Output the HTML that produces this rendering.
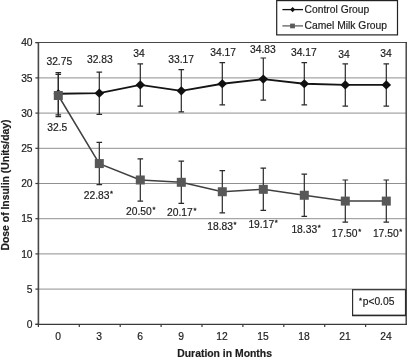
<!DOCTYPE html>
<html><head><meta charset="utf-8"><title>Dose of Insulin chart</title>
<style>
html,body{margin:0;padding:0;background:#fff;}
svg{display:block;will-change:transform;opacity:0.999;}
text{font-family:"Liberation Sans",Arial,Helvetica,sans-serif;fill:#1c1c1c;font-size:10.3px;stroke:#1c1c1c;stroke-width:0.18px;}
.b{font-weight:bold;font-size:10.4px;}
</style></head><body>
<svg width="407" height="360" viewBox="0 0 407 360">

<line x1="38" x2="406" y1="289.10" y2="289.10" stroke="#909090" stroke-width="1.0"/>
<line x1="38" x2="406" y1="253.90" y2="253.90" stroke="#909090" stroke-width="1.0"/>
<line x1="38" x2="406" y1="218.70" y2="218.70" stroke="#909090" stroke-width="1.0"/>
<line x1="38" x2="406" y1="183.50" y2="183.50" stroke="#909090" stroke-width="1.0"/>
<line x1="38" x2="406" y1="148.30" y2="148.30" stroke="#909090" stroke-width="1.0"/>
<line x1="38" x2="406" y1="113.10" y2="113.10" stroke="#909090" stroke-width="1.0"/>
<line x1="38" x2="406" y1="77.90" y2="77.90" stroke="#909090" stroke-width="1.0"/>
<line x1="35.4" x2="407" y1="42.5" y2="42.5" stroke="#484848" stroke-width="1.1"/>
<line x1="406.2" x2="406.2" y1="42.10" y2="325.10" stroke="#3a3a3a" stroke-width="1.4"/>
<line x1="38.4" x2="38.4" y1="42.10" y2="324.90" stroke="#484848" stroke-width="1.6"/>
<line x1="35.5" x2="407" y1="324.3" y2="324.3" stroke="#3a3a3a" stroke-width="1.25"/>
<line x1="35.4" x2="38.3" y1="324.30" y2="324.30" stroke="#3a3a3a" stroke-width="1.2"/>
<text x="32.6" y="327.90" text-anchor="end">0</text>
<line x1="35.4" x2="38.3" y1="289.10" y2="289.10" stroke="#3a3a3a" stroke-width="1.2"/>
<text x="32.6" y="292.70" text-anchor="end">5</text>
<line x1="35.4" x2="38.3" y1="253.90" y2="253.90" stroke="#3a3a3a" stroke-width="1.2"/>
<text x="32.6" y="257.50" text-anchor="end">10</text>
<line x1="35.4" x2="38.3" y1="218.70" y2="218.70" stroke="#3a3a3a" stroke-width="1.2"/>
<text x="32.6" y="222.30" text-anchor="end">15</text>
<line x1="35.4" x2="38.3" y1="183.50" y2="183.50" stroke="#3a3a3a" stroke-width="1.2"/>
<text x="32.6" y="187.10" text-anchor="end">20</text>
<line x1="35.4" x2="38.3" y1="148.30" y2="148.30" stroke="#3a3a3a" stroke-width="1.2"/>
<text x="32.6" y="151.90" text-anchor="end">25</text>
<line x1="35.4" x2="38.3" y1="113.10" y2="113.10" stroke="#3a3a3a" stroke-width="1.2"/>
<text x="32.6" y="116.70" text-anchor="end">30</text>
<line x1="35.4" x2="38.3" y1="77.90" y2="77.90" stroke="#3a3a3a" stroke-width="1.2"/>
<text x="32.6" y="81.50" text-anchor="end">35</text>
<line x1="35.4" x2="38.3" y1="42.70" y2="42.70" stroke="#3a3a3a" stroke-width="1.2"/>
<text x="32.6" y="46.30" text-anchor="end">40</text>
<line x1="38.40" x2="38.40" y1="324.3" y2="327.00" stroke="#3a3a3a" stroke-width="1.2"/>
<line x1="79.30" x2="79.30" y1="324.3" y2="327.00" stroke="#3a3a3a" stroke-width="1.2"/>
<line x1="120.20" x2="120.20" y1="324.3" y2="327.00" stroke="#3a3a3a" stroke-width="1.2"/>
<line x1="161.10" x2="161.10" y1="324.3" y2="327.00" stroke="#3a3a3a" stroke-width="1.2"/>
<line x1="202.00" x2="202.00" y1="324.3" y2="327.00" stroke="#3a3a3a" stroke-width="1.2"/>
<line x1="242.90" x2="242.90" y1="324.3" y2="327.00" stroke="#3a3a3a" stroke-width="1.2"/>
<line x1="283.80" x2="283.80" y1="324.3" y2="327.00" stroke="#3a3a3a" stroke-width="1.2"/>
<line x1="324.70" x2="324.70" y1="324.3" y2="327.00" stroke="#3a3a3a" stroke-width="1.2"/>
<line x1="365.60" x2="365.60" y1="324.3" y2="327.00" stroke="#3a3a3a" stroke-width="1.2"/>
<text x="58.00" y="339.9" text-anchor="middle">0</text>
<text x="99.00" y="339.9" text-anchor="middle">3</text>
<text x="140.00" y="339.9" text-anchor="middle">6</text>
<text x="181.00" y="339.9" text-anchor="middle">9</text>
<text x="222.00" y="339.9" text-anchor="middle">12</text>
<text x="263.00" y="339.9" text-anchor="middle">15</text>
<text x="304.00" y="339.9" text-anchor="middle">18</text>
<text x="345.00" y="339.9" text-anchor="middle">21</text>
<text x="386.00" y="339.9" text-anchor="middle">24</text>
<path d="M58.30 72.62V114.86M55.50 72.62h5.6M55.50 114.86h5.6" stroke="#2a2a2a" stroke-width="1.2" fill="none"/>
<path d="M58.30 74.38V116.62M55.50 74.38h5.6M55.50 116.62h5.6" stroke="#2a2a2a" stroke-width="1.2" fill="none"/>
<path d="M99.30 72.06V114.30M96.50 72.06h5.6M96.50 114.30h5.6" stroke="#2a2a2a" stroke-width="1.2" fill="none"/>
<path d="M99.30 142.46V184.70M96.50 142.46h5.6M96.50 184.70h5.6" stroke="#2a2a2a" stroke-width="1.2" fill="none"/>
<path d="M140.30 63.82V106.06M137.50 63.82h5.6M137.50 106.06h5.6" stroke="#2a2a2a" stroke-width="1.2" fill="none"/>
<path d="M140.30 158.86V201.10M137.50 158.86h5.6M137.50 201.10h5.6" stroke="#2a2a2a" stroke-width="1.2" fill="none"/>
<path d="M181.30 69.66V111.90M178.50 69.66h5.6M178.50 111.90h5.6" stroke="#2a2a2a" stroke-width="1.2" fill="none"/>
<path d="M181.30 161.18V203.42M178.50 161.18h5.6M178.50 203.42h5.6" stroke="#2a2a2a" stroke-width="1.2" fill="none"/>
<path d="M222.30 62.62V104.86M219.50 62.62h5.6M219.50 104.86h5.6" stroke="#2a2a2a" stroke-width="1.2" fill="none"/>
<path d="M222.30 170.62V212.86M219.50 170.62h5.6M219.50 212.86h5.6" stroke="#2a2a2a" stroke-width="1.2" fill="none"/>
<path d="M263.30 57.98V100.22M260.50 57.98h5.6M260.50 100.22h5.6" stroke="#2a2a2a" stroke-width="1.2" fill="none"/>
<path d="M263.30 168.22V210.46M260.50 168.22h5.6M260.50 210.46h5.6" stroke="#2a2a2a" stroke-width="1.2" fill="none"/>
<path d="M304.30 62.62V104.86M301.50 62.62h5.6M301.50 104.86h5.6" stroke="#2a2a2a" stroke-width="1.2" fill="none"/>
<path d="M304.30 174.14V216.38M301.50 174.14h5.6M301.50 216.38h5.6" stroke="#2a2a2a" stroke-width="1.2" fill="none"/>
<path d="M345.30 63.82V106.06M342.50 63.82h5.6M342.50 106.06h5.6" stroke="#2a2a2a" stroke-width="1.2" fill="none"/>
<path d="M345.30 179.98V222.22M342.50 179.98h5.6M342.50 222.22h5.6" stroke="#2a2a2a" stroke-width="1.2" fill="none"/>
<path d="M386.30 63.82V106.06M383.50 63.82h5.6M383.50 106.06h5.6" stroke="#2a2a2a" stroke-width="1.2" fill="none"/>
<path d="M386.30 179.98V222.22M383.50 179.98h5.6M383.50 222.22h5.6" stroke="#2a2a2a" stroke-width="1.2" fill="none"/>
<polyline points="58.30,93.74 99.30,93.18 140.30,84.94 181.30,90.78 222.30,83.74 263.30,79.10 304.30,83.74 345.30,84.94 386.30,84.94" fill="none" stroke="#141414" stroke-width="1.8"/>
<path d="M58.30 89.14L63.10 93.74L58.30 98.34L53.50 93.74Z" fill="#111"/>
<path d="M99.30 88.58L104.10 93.18L99.30 97.78L94.50 93.18Z" fill="#111"/>
<path d="M140.30 80.34L145.10 84.94L140.30 89.54L135.50 84.94Z" fill="#111"/>
<path d="M181.30 86.18L186.10 90.78L181.30 95.38L176.50 90.78Z" fill="#111"/>
<path d="M222.30 79.14L227.10 83.74L222.30 88.34L217.50 83.74Z" fill="#111"/>
<path d="M263.30 74.50L268.10 79.10L263.30 83.70L258.50 79.10Z" fill="#111"/>
<path d="M304.30 79.14L309.10 83.74L304.30 88.34L299.50 83.74Z" fill="#111"/>
<path d="M345.30 80.34L350.10 84.94L345.30 89.54L340.50 84.94Z" fill="#111"/>
<path d="M386.30 80.34L391.10 84.94L386.30 89.54L381.50 84.94Z" fill="#111"/>
<polyline points="58.30,95.50 99.30,163.58 140.30,179.98 181.30,182.30 222.30,191.74 263.30,189.34 304.30,195.26 345.30,201.10 386.30,201.10" fill="none" stroke="#404040" stroke-width="1.5"/>
<rect x="53.80" y="91.00" width="9" height="9" fill="#585858"/>
<rect x="94.80" y="159.08" width="9" height="9" fill="#585858"/>
<rect x="135.80" y="175.48" width="9" height="9" fill="#585858"/>
<rect x="176.80" y="177.80" width="9" height="9" fill="#585858"/>
<rect x="217.80" y="187.24" width="9" height="9" fill="#585858"/>
<rect x="258.80" y="184.84" width="9" height="9" fill="#585858"/>
<rect x="299.80" y="190.76" width="9" height="9" fill="#585858"/>
<rect x="340.80" y="196.60" width="9" height="9" fill="#585858"/>
<rect x="381.80" y="196.60" width="9" height="9" fill="#585858"/>
<text x="59.30" y="64.60" text-anchor="middle">32.75</text>
<text x="47.30" y="130.80">32.5</text>
<text x="99.80" y="62.60" text-anchor="middle">32.83</text>
<text x="83.70" y="198.50">22.83<tspan font-size="7.6" dx="0.6" dy="-2.7" stroke="#1c1c1c" stroke-width="0.3">*</tspan></text>
<text x="139.10" y="56.50" text-anchor="middle">34</text>
<text x="126.00" y="214.90">20.50<tspan font-size="7.6" dx="0.6" dy="-2.7" stroke="#1c1c1c" stroke-width="0.3">*</tspan></text>
<text x="181.10" y="62.60" text-anchor="middle">33.17</text>
<text x="167.00" y="216.10">20.17<tspan font-size="7.6" dx="0.6" dy="-2.7" stroke="#1c1c1c" stroke-width="0.3">*</tspan></text>
<text x="223.20" y="55.90" text-anchor="middle">34.17</text>
<text x="207.20" y="229.90">18.83<tspan font-size="7.6" dx="0.6" dy="-2.7" stroke="#1c1c1c" stroke-width="0.3">*</tspan></text>
<text x="262.90" y="52.60" text-anchor="middle">34.83</text>
<text x="248.40" y="228.00">19.17<tspan font-size="7.6" dx="0.6" dy="-2.7" stroke="#1c1c1c" stroke-width="0.3">*</tspan></text>
<text x="303.80" y="55.60" text-anchor="middle">34.17</text>
<text x="291.40" y="233.00">18.33<tspan font-size="7.6" dx="0.6" dy="-2.7" stroke="#1c1c1c" stroke-width="0.3">*</tspan></text>
<text x="344.00" y="57.90" text-anchor="middle">34</text>
<text x="331.80" y="236.60">17.50<tspan font-size="7.6" dx="0.6" dy="-2.7" stroke="#1c1c1c" stroke-width="0.3">*</tspan></text>
<text x="386.10" y="57.40" text-anchor="middle">34</text>
<text x="372.90" y="236.60">17.50<tspan font-size="7.6" dx="0.6" dy="-2.7" stroke="#1c1c1c" stroke-width="0.3">*</tspan></text>
<rect x="276.7" y="0.6" width="120.8" height="34.3" fill="#fff" stroke="#222" stroke-width="1.2"/>
<line x1="282.4" x2="303" y1="9.6" y2="9.6" stroke="#111" stroke-width="1.3"/>
<path d="M292.6 6.9L295.1 9.6L292.6 12.3L290.1 9.6Z" fill="#111"/>
<text x="304.6" y="12.6">Control Group</text>
<line x1="282.4" x2="303" y1="25.9" y2="25.9" stroke="#606060" stroke-width="1.3"/>
<rect x="290.1" y="23.6" width="4.8" height="4.7" fill="#5a5a5a"/>
<text x="304.6" y="28.7">Camel Milk Group</text>
<rect x="352.6" y="289.7" width="52.9" height="25.7" fill="#fff" stroke="#2a2a2a" stroke-width="1.15"/><line x1="352" x2="406" y1="315.5" y2="315.5" stroke="#2a2a2a" stroke-width="1.5"/>
<text x="358.9" y="305.2"><tspan font-size="7.6" dy="-2.7" stroke="#1c1c1c" stroke-width="0.3">*</tspan><tspan dy="2.7" dx="0.8">p&lt;0.05</tspan></text>
<text class="b" x="224.6" y="357" text-anchor="middle">Duration in Months</text>
<text class="b" transform="translate(9,185) rotate(-90)" text-anchor="middle">Dose of Insulin (Units/day)</text>
</svg></body></html>
